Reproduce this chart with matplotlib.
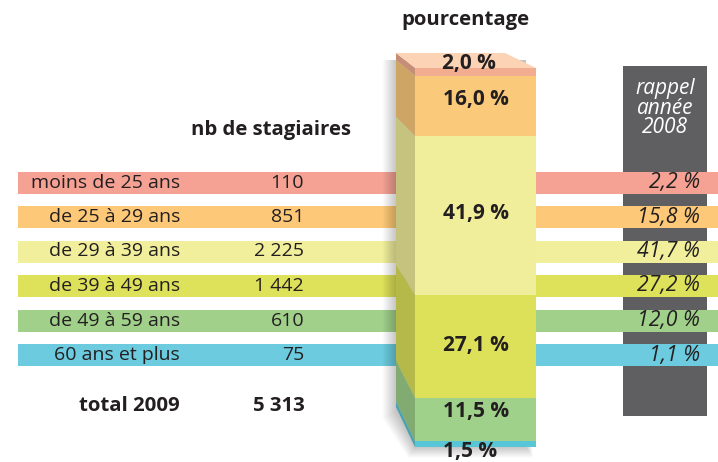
import matplotlib.pyplot as plt
from matplotlib.patches import Polygon, Rectangle
from matplotlib.colors import to_rgb

plt.rcParams['font.family'] = ['Open Sans', 'DejaVu Sans']

categories = ["moins de 25 ans", "de 25 à 29 ans", "de 29 à 39 ans",
              "de 39 à 49 ans", "de 49 à 59 ans", "60 ans et plus"]
counts = [110, 851, 2225, 1442, 610, 75]
total_2009 = 5313
pct_2009 = [2.0, 16.0, 41.9, 27.1, 11.5, 1.5]
pct_2008 = [2.2, 15.8, 41.7, 27.2, 12.0, 1.1]

band_colors = ["#f5a294", "#fdc978", "#f1ef9b", "#dee15a", "#a1d08b", "#6ccbdf"]
col_colors = ["#f2ad90", "#fbc97a", "#f1ee9b", "#dde15a", "#9fd18b", "#58c6d7"]
text_col = "#231f20"
fs = 14
fs_bold = 14.7


def fmt_num(n):
    return f"{n:,}".replace(",", " ")


def fmt_pct(p):
    return f"{p:.1f} %".replace(".", ",")


def darker(c, f=0.82):
    r, g, b = to_rgb(c)
    return (r * f, g * f, b * f)


fig = plt.figure(figsize=(7.18, 4.62), dpi=100)
ax = fig.add_axes([0, 0, 1, 1])
ax.set_xlim(0, 718)
ax.set_ylim(462, 0)
ax.axis('off')

# horizontal bands
band_y0 = 182.5
band_step = 34.5
band_h = 22
for i, (cat, n, p8, c) in enumerate(zip(categories, counts, pct_2008, band_colors)):
    y = band_y0 + i * band_step
    ax.add_patch(Rectangle((18, y - band_h / 2), 390, band_h, color=c, lw=0, zorder=1))
    ax.add_patch(Rectangle((536, y - band_h / 2), 182, band_h, color=c, lw=0, zorder=3))
    ax.text(180, y, cat, ha='right', va='center', fontsize=fs, color=text_col, zorder=5)
    ax.text(304, y, fmt_num(n), ha='right', va='center', fontsize=fs, color=text_col, zorder=5)
    ax.text(700, y, fmt_pct(p8), ha='right', va='center', fontsize=15.3,
            style='italic', color=text_col, zorder=5)

# gray 2008 column
ax.add_patch(Rectangle((623, 66), 84, 350, color="#5f5e60", lw=0, zorder=2))
ax.text(665, 108, "rappel\nannée\n2008", ha='center', va='center', fontsize=15,
        style='italic', color='white', linespacing=0.92, zorder=5)

# headers
ax.text(465, 20, "pourcentage", ha='center', va='center', fontsize=fs_bold,
        weight='bold', color=text_col)
ax.text(271, 130, "nb de stagiaires", ha='center', va='center', fontsize=fs_bold,
        weight='bold', color=text_col)
ax.text(180, 406, "total 2009", ha='right', va='center', fontsize=fs_bold,
        weight='bold', color=text_col)
ax.text(305, 406, fmt_num(total_2009), ha='right', va='center', fontsize=fs_bold,
        weight='bold', color=text_col)

# stacked 3D column
x_front, x_right, x_back = 415, 536, 396
bottom = 447
scale = 3.79
top = bottom - scale * sum(pct_2009)


def back_y(fy):
    return 53 + (fy - top) * (407 - 53) / (bottom - top)


# soft shadow, falling to the lower left
for k in range(12):
    d = 1.2 * k
    ax.add_patch(Polygon([(x_back - d, 60), (x_right - 10, 60), (x_right - 10 + d * 0.5, bottom + d * 0.8),
                          (x_front - d * 0.5, bottom + d * 0.8), (x_back - d, 412 + d * 0.5)],
                         closed=True, color='black', alpha=0.018, lw=0, zorder=2))

y = top
for i, (p, c) in enumerate(zip(pct_2009, col_colors)):
    h = p * scale
    ax.add_patch(Rectangle((x_front, y), x_right - x_front, h, color=c, lw=0, zorder=4))
    ax.add_patch(Polygon([(x_back, back_y(y)), (x_front, y), (x_front, y + h),
                          (x_back, back_y(y + h))], closed=True, color=darker(c), lw=0,
                         zorder=4))
    y += h

ax.add_patch(Polygon([(x_front, top), (x_right, top), (505, 53), (x_back, 53)],
                     closed=True, color="#fcd3b5", lw=0, zorder=4))

# percentage labels inside the column
label_pos = [(469, 64), (476, 100), (476, 213), (476, 346), (476, 411), (470, 452)]
for p, (lx, ly) in zip(pct_2009, label_pos):
    ax.text(lx, ly, fmt_pct(p), ha='center', va='center', fontsize=15,
            weight='bold', color=text_col, zorder=6)

fig.savefig("out.png", dpi=100)
